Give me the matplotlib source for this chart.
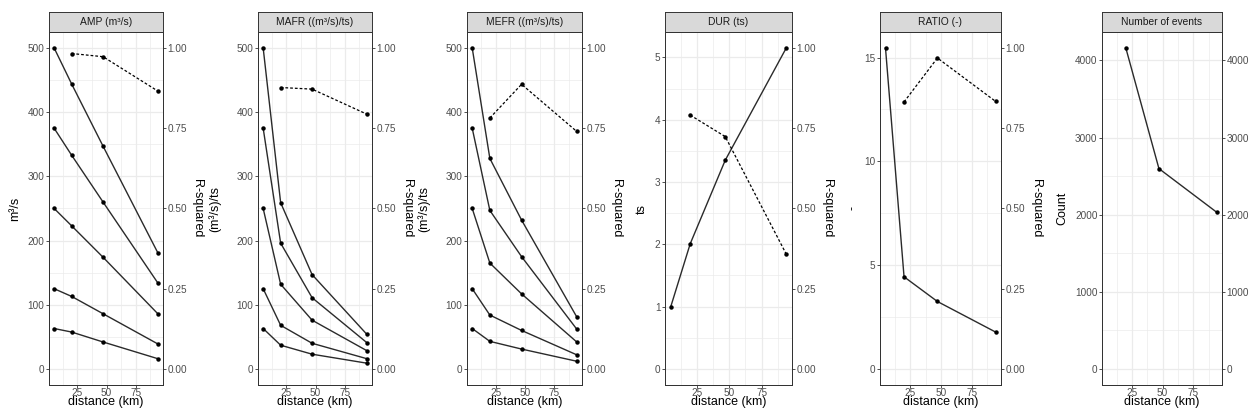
import numpy as np
import matplotlib
matplotlib.use("Agg")
import matplotlib.pyplot as plt
from matplotlib.ticker import MultipleLocator, FixedLocator

plt.rcParams['font.family'] = ['Liberation Sans', 'DejaVu Sans']

distance = [5, 20, 47, 94]
r2_distance = [20, 47, 94]

# flow metrics, one row per starting level
amp = [[500, 444, 347, 181],
       [375, 333, 260, 134],
       [250, 223, 174, 86],
       [125, 113, 86, 39],
       [63, 57.5, 42, 16]]
amp_r2 = [0.983, 0.973, 0.866]

mafr = [[500, 259, 147, 54],
        [375, 196, 111, 41],
        [250, 132, 76, 28.5],
        [125, 68, 40, 16],
        [63, 37, 23, 9]]
mafr_r2 = [0.877, 0.872, 0.794]

mefr = [[500, 328, 232, 81],
        [375, 247, 175, 62],
        [250, 165, 117, 42],
        [125, 84, 60, 22],
        [63, 43, 31, 12]]
mefr_r2 = [0.782, 0.887, 0.740]

dur = [[1.0, 2.01, 3.35, 5.15]]
dur_r2 = [0.791, 0.724, 0.358]

ratio = [[15.46, 4.44, 3.25, 1.78]]
ratio_r2 = [0.832, 0.969, 0.834]

events_distance = [20, 47, 94]
events = [4160, 2597, 2033]

titles = ["AMP (m³/s)", "MAFR ((m³/s)/ts)", "MEFR ((m³/s)/ts)",
          "DUR (ts)", "RATIO (-)", "Number of events"]
ylabels = ["m³/s", "(m³/s)/ts", "(m³/s)/ts", "ts", "-", "Count"]

W, H = 1253, 418
fig = plt.figure(figsize=(W / 100, H / 100), dpi=100)

# panel edges in pixels
lefts = [49, 258, 467, 665, 880, 1102]
rights = [163, 372, 582, 792, 1001, 1222]
ylab_x = [15, 215, 424, 642, 853, 1062]
rlab_x = [197, 407, 616, 827, 1036]
top, strip_top, bottom = 32, 12, 385

tick_col = '#4D4D4D'
grid_col = '#EBEBEB'
xlim = (5 - 0.05 * 89, 94 + 0.05 * 89)


def style(ax):
    ax.tick_params(length=2.2, width=0.6, color='#333333', labelcolor=tick_col,
                   labelsize=7.2, pad=1)
    ax.tick_params(axis='x', pad=0.3)
    ax.tick_params(which='minor', length=0)
    for s in ax.spines.values():
        s.set_color('#333333')
        s.set_linewidth(0.7)


def panel(i, series, r2, major, minor):
    l, r = lefts[i], rights[i]
    ax = fig.add_axes([l / W, 1 - bottom / H, (r - l) / W, (bottom - top) / H])
    ymax = max(max(s) for s in series)
    ax.set_xlim(*xlim)
    ax.set_ylim(-0.05 * ymax, 1.05 * ymax)
    ax.xaxis.set_major_locator(FixedLocator([25, 50, 75]))
    ax.xaxis.set_minor_locator(FixedLocator([12.5, 37.5, 62.5, 87.5]))
    ax.yaxis.set_major_locator(MultipleLocator(major))
    ax.yaxis.set_minor_locator(MultipleLocator(minor))
    ax.grid(which='major', color=grid_col, lw=0.9)
    ax.grid(which='minor', color=grid_col, lw=0.5)
    ax.set_axisbelow(True)
    for s in series:
        x = distance if len(s) == 4 else events_distance
        ax.plot(x, s, color='#2a2a2a', lw=1.0, marker='o', ms=2.2,
                mfc='black', mec='black')
    style(ax)

    ax2 = ax.twinx()
    ax2.set_ylim(*ax.get_ylim())
    if r2 is not None:
        ax2.plot(r2_distance, np.array(r2) * ymax, color='black', lw=0.9,
                 ls=(0, (2.2, 1.6)), marker='o', ms=2.2)
        ax2.yaxis.set_major_locator(FixedLocator(np.array([0, .25, .5, .75, 1]) * ymax))
        ax2.set_yticklabels(["0.00", "0.25", "0.50", "0.75", "1.00"])
        fig.text(rlab_x[i] / W, 1 - 208.5 / H, "R-squared", rotation=270,
                 ha='center', va='center', fontsize=9)
    else:
        ax2.yaxis.set_major_locator(MultipleLocator(major))
    style(ax2)

    # strip on top of the panel
    st = fig.add_axes([l / W, 1 - top / H, (r - l) / W, (top - strip_top) / H])
    st.set_facecolor('#D9D9D9')
    st.set_xticks([])
    st.set_yticks([])
    for s in st.spines.values():
        s.set_color('#333333')
        s.set_linewidth(0.7)
    st.text(0.5, 0.5, titles[i], ha='center', va='center', fontsize=7.4,
            color='#1A1A1A', transform=st.transAxes)

    fig.text(ylab_x[i] / W, 1 - 208.5 / H, ylabels[i], rotation=90,
             ha='center', va='center', fontsize=9)
    fig.text((l + r) / 2 / W, 1 - 402 / H, "distance (km)",
             ha='center', va='center', fontsize=9)


panel(0, amp, amp_r2, 100, 50)
panel(1, mafr, mafr_r2, 100, 50)
panel(2, mefr, mefr_r2, 100, 50)
panel(3, dur, dur_r2, 1, 0.5)
panel(4, ratio, ratio_r2, 5, 2.5)
panel(5, [events], None, 1000, 500)

fig.savefig("out.png", dpi=100)
